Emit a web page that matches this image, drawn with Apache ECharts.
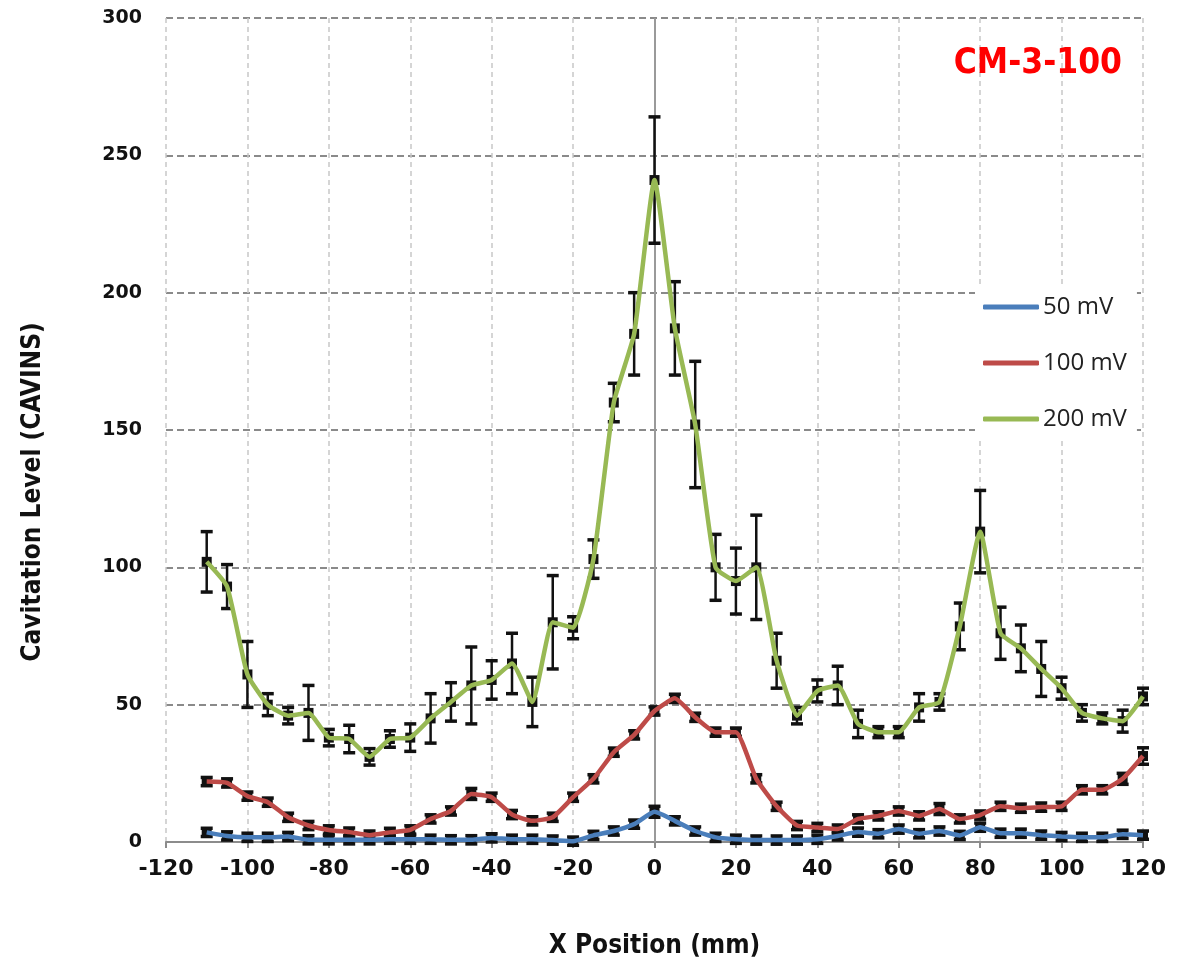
<!DOCTYPE html>
<html>
<head>
<meta charset="utf-8">
<script src="https://cdn.jsdelivr.net/npm/echarts@6/dist/echarts.min.js"></script>
<style>
  html, body { margin: 0; padding: 0; background: #fff; }
  #chart { width: 1178px; height: 964px; }
</style>
</head>
<body>
<div id="chart"></div>
<script>
// Measurement positions along the scan (mm)
const xPositions = [-110, -105, -100, -95, -90, -85, -80, -75, -70, -65, -60, -55, -50, -45,
  -40, -35, -30, -25, -20, -15, -10, -5, 0, 5, 10, 15, 20, 25, 30, 35, 40,
  45, 50, 55, 60, 65, 70, 75, 80, 85, 90, 95, 100, 105, 110, 115, 120];

// Cavitation level (CAVINS) per drive level, with ± error
const mv50 = [3.5, 2.2, 1.7, 1.7, 2, 0.8, 0.8, 0.8, 0.8, 1, 1, 1, 0.8, 0.8,
  1.5, 1, 1, 0.7, 0.3, 2.4, 4, 6.5, 11, 7.7, 4, 1.7, 1, 0.7, 0.7, 0.7, 1,
  2.2, 3.6, 3, 4.7, 3, 4, 2.4, 5.4, 3.2, 3.2, 2.5, 2, 1.7, 1.7, 2.8, 2.5];
const mv50Err = [1.5, 1.5, 1.5, 1.5, 1.5, 1.5, 1.5, 1.5, 1.5, 1.5, 1.5, 1.5, 1.5, 1.5,
  1.5, 1.5, 1.5, 1.5, 1.5, 1.5, 1.5, 1.5, 2, 1.5, 1.5, 1.5, 1.5, 1.5, 1.5, 1.5, 1.5,
  1.5, 1.5, 1.5, 1.5, 1.5, 1.5, 1.5, 1.5, 1.5, 1.5, 1.5, 1.5, 1.5, 1.5, 1.5, 1.5];

const mv100 = [22, 21.5, 16.7, 14.5, 9, 6, 4.4, 3.6, 2.5, 3.5, 4.4, 8.4, 11.3, 17.5,
  16.3, 10, 7.7, 9, 16.3, 23, 32.7, 39, 47.7, 52.3, 45.4, 40, 40, 23, 13, 6, 5.3,
  4.7, 8.4, 9.5, 11.3, 9.5, 12, 8.4, 9.8, 13, 12.3, 12.7, 13, 19, 19, 23, 31.3];
const mv100Err = [1.5, 1.5, 1.5, 1.5, 1.5, 1.5, 1.5, 1.5, 1.5, 1.5, 1.5, 1.5, 1.5, 2,
  1.5, 1.5, 1.5, 1.5, 1.5, 1.5, 1.5, 1.5, 1.5, 1.5, 1.5, 1.5, 1.5, 1.5, 1.5, 1.5, 1.5,
  1.5, 1.5, 1.5, 1.5, 1.5, 2, 1.5, 1.5, 1.5, 1.5, 1.5, 1.5, 1.5, 1.5, 2, 3];

const mv200 = [102, 93, 61, 50, 46, 47, 38, 37.5, 31, 37.5, 38, 45, 51, 57,
  59, 65, 51, 80, 78, 103, 160, 185, 241, 187, 152, 100, 95, 100, 66, 46, 55,
  57, 43, 40, 40, 49, 51, 78.5, 113, 76, 70.5, 63, 56, 47, 45, 44, 53];
const mv200Err = [11, 8, 12, 4, 3, 10, 3, 5, 3, 3, 5, 9, 7, 14,
  7, 11, 9, 17, 4, 7, 7, 15, 23, 17, 23, 12, 12, 19, 10, 3, 4,
  7, 5, 2, 2, 5, 3, 8.5, 15, 9.5, 8.5, 10, 4, 3, 2, 4, 3];

const seriesNames = ['50 mV', '100 mV', '200 mV'];
const seriesColors = ['#4a7ebb', '#be4b48', '#98b954'];

const font = 'DejaVu Sans';
const condensed = "'DejaVu Sans Condensed', 'DejaVu Sans'";

function pairs(vals) {
  return xPositions.map((x, i) => [x, vals[i]]);
}
function errRows(vals, errs) {
  return xPositions.map((x, i) => [x, vals[i], vals[i] - errs[i], vals[i] + errs[i]]);
}

// Error bar with caps and a black point marker
function renderErrorBar(params, api) {
  const x = api.value(0);
  const mid = api.coord([x, api.value(1)]);
  const lo = api.coord([x, api.value(2)]);
  const hi = api.coord([x, api.value(3)]);
  const capW = 6;
  const black = '#111';
  return {
    type: 'group',
    children: [
      { type: 'line', shape: { x1: mid[0], y1: lo[1], x2: mid[0], y2: hi[1] },
        style: { stroke: black, lineWidth: 2.5 } },
      { type: 'line', shape: { x1: mid[0] - capW, y1: lo[1], x2: mid[0] + capW, y2: lo[1] },
        style: { stroke: black, lineWidth: 3.5 } },
      { type: 'line', shape: { x1: mid[0] - capW, y1: hi[1], x2: mid[0] + capW, y2: hi[1] },
        style: { stroke: black, lineWidth: 3.5 } },
      { type: 'rect', shape: { x: mid[0] - 5, y: mid[1] - 5, width: 10, height: 10 },
        style: { fill: black } }
    ]
  };
}

const valueSets = [mv50, mv100, mv200];
const errSets = [mv50Err, mv100Err, mv200Err];

const series = [];
valueSets.forEach((vals, k) => {
  series.push({
    type: 'custom',
    name: seriesNames[k] + ' err',
    renderItem: renderErrorBar,
    data: errRows(vals, errSets[k]),
    encode: { x: 0, y: [1, 2, 3] },
    z: 3,
    silent: true
  });
});
valueSets.forEach((vals, k) => {
  const s = {
    type: 'line',
    name: seriesNames[k],
    data: pairs(vals),
    smooth: 0.15,
    showSymbol: false,
    lineStyle: { color: seriesColors[k], width: 4.5 },
    itemStyle: { color: seriesColors[k] },
    z: 4,
    silent: true
  };
  if (k === 0) {
    s.markLine = {
      silent: true,
      symbol: 'none',
      label: { show: false },
      lineStyle: { color: '#9a9a9a', type: 'solid', width: 2 },
      data: [{ xAxis: 0 }],
      z: 1
    };
  }
  series.push(s);
});

const chart = echarts.init(document.getElementById('chart'), null, { renderer: 'canvas' });
chart.setOption({
  backgroundColor: '#ffffff',
  animation: false,
  title: {
    text: 'CM-3-100',
    right: 51,
    top: 41,
    textStyle: { color: '#ff0000', fontFamily: condensed, fontWeight: 'bold', fontSize: 35 }
  },
  // Vertical axis title, set a little below the plot's middle
  graphic: [{
    type: 'text',
    x: 33,
    y: 492,
    rotation: Math.PI / 2,
    style: {
      text: 'Cavitation Level (CAVINS)',
      fontFamily: condensed,
      fontWeight: 'bold',
      fontSize: 26,
      fill: '#111',
      align: 'center',
      verticalAlign: 'middle'
    }
  }],
  legend: {
    data: seriesNames,
    orient: 'vertical',
    left: 975,
    top: 288,
    itemGap: 32,
    itemWidth: 56,
    itemHeight: 5,
    icon: 'roundRect',
    backgroundColor: '#ffffff',
    padding: [7, 10, 6, 8],
    textStyle: { fontFamily: 'Open Sans', fontSize: 24, color: '#222', padding: [0, 0, 0, -1] }
  },
  grid: { left: 166, right: 35, top: 18, bottom: 121 },
  xAxis: {
    type: 'value',
    min: -120,
    max: 120,
    interval: 20,
    name: 'X Position (mm)',
    nameLocation: 'middle',
    nameGap: 91,
    nameTextStyle: { fontFamily: condensed, fontWeight: 'bold', fontSize: 26, color: '#111' },
    axisLine: { onZero: false, lineStyle: { color: '#8c8c8c', width: 2 } },
    axisTick: { show: true, length: 6, lineStyle: { color: '#8c8c8c', width: 2 } },
    axisLabel: { fontFamily: font, fontWeight: 'bold', fontSize: 22, color: '#111', margin: 16 },
    splitLine: { show: true, lineStyle: { color: '#c8c8c8', type: [5, 4], width: 1.5 } }
  },
  yAxis: {
    type: 'value',
    min: 0,
    max: 300,
    interval: 50,
    axisLine: { show: false },
    axisTick: { show: false },
    axisLabel: { fontFamily: font, fontWeight: 'bold', fontSize: 19, color: '#111', margin: 24 },
    splitLine: { show: true, lineStyle: { color: '#8a8a8a', type: [7, 4], width: 2 } }
  },
  series: series
});
</script>
</body>
</html>
